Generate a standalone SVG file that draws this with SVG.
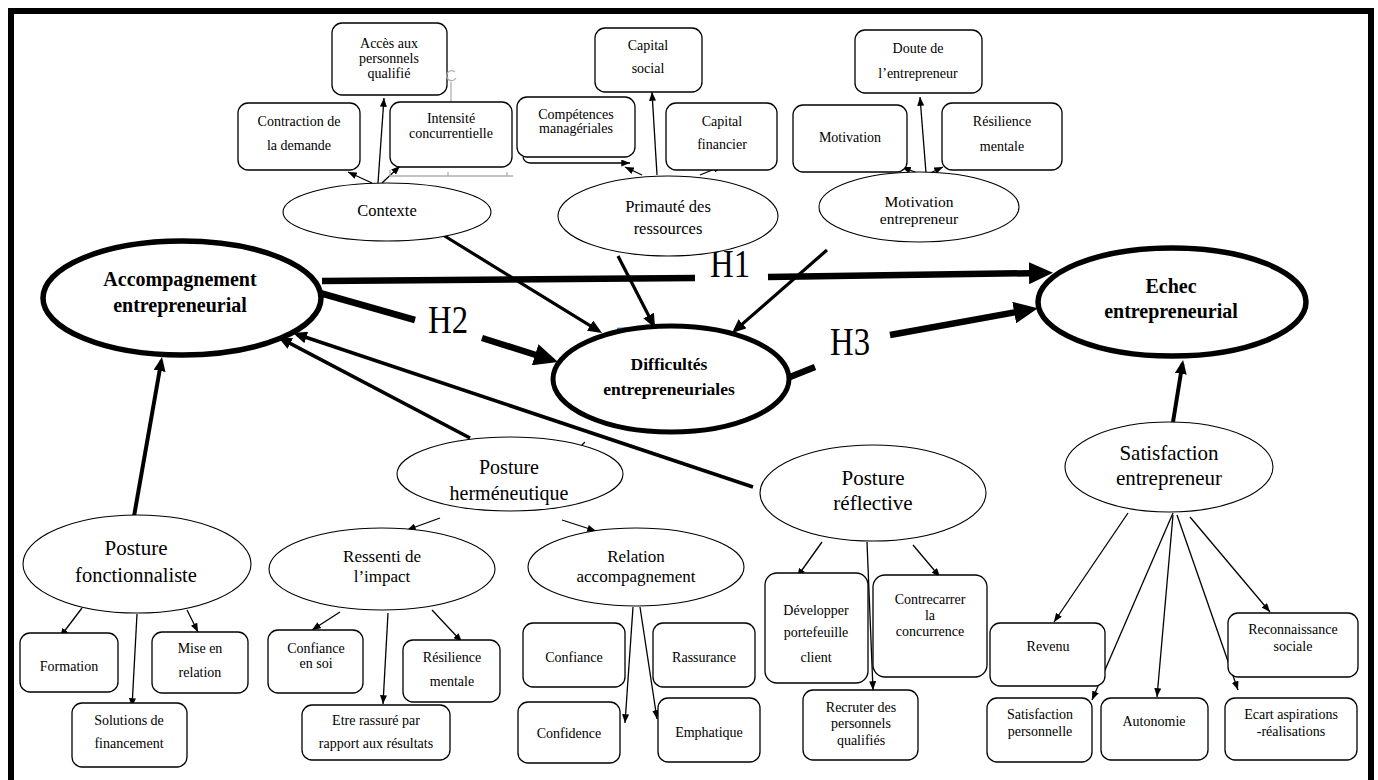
<svg xmlns="http://www.w3.org/2000/svg" width="1378" height="780" viewBox="0 0 1378 780" font-family="'Liberation Serif', 'Times New Roman', serif">
<style>
text{font-family:'Liberation Serif','Times New Roman',serif;fill:#000;text-anchor:middle}
.bx{fill:#fff;stroke:#000;stroke-width:1.3}
.el{fill:#fff;stroke:#000;stroke-width:1.1}
.elb{fill:#fff;stroke:#000;stroke-width:5.5}
.t14{font-size:14px}
.bold{font-weight:bold}
.thin{fill:none;stroke:#000;stroke-width:1.3}
.med{fill:none;stroke:#000;stroke-width:3.2}
.thick{fill:none;stroke:#000;stroke-width:6.5}
.art{fill:none;stroke:#b0b0b0;stroke-width:1.3}
</style>
<defs>
<marker id="ah" viewBox="0 0 10 8" markerWidth="9" markerHeight="7" refX="10" refY="4" orient="auto" markerUnits="userSpaceOnUse"><path d="M0,0L10,4L0,8z"/></marker>
<marker id="am" viewBox="0 0 14 12" markerWidth="14" markerHeight="12" refX="10" refY="6" orient="auto" markerUnits="userSpaceOnUse"><path d="M0,0L14,6L0,12z"/></marker>
<marker id="ab" viewBox="0 0 24 22" markerWidth="24" markerHeight="22" refX="14" refY="11" orient="auto" markerUnits="userSpaceOnUse"><path d="M0,0L24,11L0,22z"/></marker>
</defs>
<rect x="0" y="0" width="1378" height="780" fill="#fff"/>
<rect x="11" y="11" width="1360" height="790" fill="none" stroke="#000" stroke-width="6"/>

<g id="connectors">
<line class="thick" x1="322" y1="281" x2="695" y2="278"/>
<line class="thick" x1="768" y1="277" x2="1043" y2="273" marker-end="url(#ab)"/>
<line class="thick" x1="320" y1="293" x2="415" y2="320"/>
<line class="thick" x1="482" y1="338" x2="548.5" y2="359" marker-end="url(#ab)"/>
<line class="thick" x1="790" y1="377" x2="815" y2="367"/>
<line class="thick" x1="890" y1="335" x2="1028" y2="310" marker-end="url(#ab)"/>
<line class="med" x1="443" y1="235" x2="598.6" y2="330.9" marker-end="url(#am)"/>
<line class="med" x1="618" y1="256" x2="653.2" y2="324.4" marker-end="url(#am)"/>
<line class="med" x1="827" y1="250" x2="735" y2="330.4" marker-end="url(#am)"/>
<line class="med" x1="133" y1="522" x2="161.3" y2="361" marker-end="url(#am)" style="stroke-width:4"/>
<line class="med" x1="470" y1="438" x2="281.5" y2="338.9" marker-end="url(#am)" style="stroke-width:3.6"/>
<line class="med" x1="753" y1="487" x2="296.8" y2="334.3" marker-end="url(#am)" style="stroke-width:3.6"/>
<line class="med" x1="1173" y1="422" x2="1182.4" y2="364" marker-end="url(#am)" style="stroke-width:4"/>
<line class="thin" x1="372" y1="183" x2="348" y2="172" marker-end="url(#ah)"/>
<line class="thin" x1="378" y1="183" x2="384" y2="98" marker-end="url(#ah)"/>
<line class="thin" x1="382" y1="183" x2="400" y2="166" marker-end="url(#ah)"/>
<line class="thin" x1="642" y1="175" x2="625" y2="167" marker-end="url(#ah)"/>
<line class="thin" x1="657" y1="175" x2="652" y2="92" marker-end="url(#ah)"/>
<line class="thin" x1="700" y1="175" x2="722" y2="166" marker-end="url(#ah)"/>
<path class="thin" d="M523,157 Q524,163 531,163 L630,163" marker-end="url(#ah)"/>
<line class="thin" x1="920" y1="174" x2="902" y2="167" marker-end="url(#ah)"/>
<line class="thin" x1="926" y1="173" x2="920" y2="97" marker-end="url(#ah)"/>
<line class="thin" x1="928" y1="174" x2="943" y2="167" marker-end="url(#ah)"/>
<line class="thin" x1="558" y1="383" x2="575" y2="395" marker-end="url(#ah)"/>
<line class="thin" x1="585" y1="442" x2="560" y2="467" marker-end="url(#ah)"/>
<line x1="617" y1="328.5" x2="637" y2="327.5" stroke="#4a7ebb" stroke-width="1.6"/>
<line class="thin" x1="440" y1="518" x2="407" y2="530" marker-end="url(#ah)"/>
<line class="thin" x1="562" y1="520" x2="596" y2="531" marker-end="url(#ah)"/>
<line class="thin" x1="82" y1="608" x2="60" y2="637" marker-end="url(#ah)"/>
<line class="thin" x1="137" y1="614" x2="132" y2="707" marker-end="url(#ah)"/>
<line class="thin" x1="187" y1="610" x2="198" y2="632" marker-end="url(#ah)"/>
<line class="thin" x1="340" y1="612" x2="312" y2="630" marker-end="url(#ah)"/>
<line class="thin" x1="388" y1="613" x2="383" y2="704" marker-end="url(#ah)"/>
<line class="thin" x1="432" y1="610" x2="462" y2="642" marker-end="url(#ah)"/>
<line class="thin" x1="633" y1="607" x2="625" y2="723" marker-end="url(#ah)"/>
<line class="thin" x1="640" y1="607" x2="657" y2="719" marker-end="url(#ah)"/>
<line class="thin" x1="822" y1="542" x2="797" y2="577" marker-end="url(#ah)"/>
<line class="thin" x1="867" y1="542" x2="873" y2="690" marker-end="url(#ah)"/>
<line class="thin" x1="913" y1="545" x2="940" y2="577" marker-end="url(#ah)"/>
<line class="thin" x1="1128" y1="513" x2="1054" y2="622" marker-end="url(#ah)"/>
<line class="thin" x1="1173" y1="513" x2="1092" y2="700" marker-end="url(#ah)"/>
<line class="thin" x1="1173" y1="515" x2="1157" y2="697" marker-end="url(#ah)"/>
<line class="thin" x1="1177" y1="515" x2="1238" y2="690" marker-end="url(#ah)"/>
<line class="thin" x1="1190" y1="517" x2="1270" y2="612" marker-end="url(#ah)"/>
</g>

<g id="labels">
<text x="730" y="277" font-size="40" textLength="40" lengthAdjust="spacingAndGlyphs">H1</text>
<text x="448" y="333" font-size="40" textLength="40" lengthAdjust="spacingAndGlyphs">H2</text>
<text x="850" y="355" font-size="40" textLength="40" lengthAdjust="spacingAndGlyphs">H3</text>
</g>

<g id="acces"><rect class="bx" x="332" y="23" width="115" height="72" rx="10"/>
<text class="t14" x="389" y="48">Accès aux</text><text class="t14" x="389" y="63">personnels</text><text class="t14" x="389" y="78">qualifié</text></g>
<g id="artifact"><line class="art" x1="451" y1="82" x2="451" y2="102"/><path class="art" d="M455,72 A5,5 0 1 0 456,78"/>
<path class="art" d="M390,170 L390,176 L513,176 M448,176 v-4 M507,176 v-4"/></g>
<g id="contraction"><rect class="bx" x="238" y="103" width="122" height="67" rx="10"/>
<text class="t14" x="299" y="126">Contraction de</text><text class="t14" x="299" y="150">la demande</text></g>
<g id="intensite"><rect class="bx" x="390" y="102" width="122" height="65" rx="10"/>
<text class="t14" x="451" y="123">Intensité</text><text class="t14" x="451" y="138">concurrentielle</text></g>
<g id="contexte"><ellipse class="el" cx="387" cy="212" rx="104" ry="29"/>
<text x="387" y="216" font-size="16.5">Contexte</text></g>

<g id="capsocial"><rect class="bx" x="595" y="28" width="107" height="64" rx="10"/>
<text class="t14" x="648" y="50">Capital</text><text class="t14" x="648" y="73">social</text></g>
<g id="competences"><rect class="bx" x="517" y="97" width="118" height="60" rx="10"/>
<text class="t14" x="576" y="119">Compétences</text><text class="t14" x="576" y="133">managériales</text></g>
<g id="capfin"><rect class="bx" x="666" y="103" width="111" height="67" rx="10"/>
<text class="t14" x="722" y="126">Capital</text><text class="t14" x="722" y="149">financier</text></g>
<g id="primaute"><ellipse class="el" cx="668" cy="216" rx="110" ry="40"/>
<text x="668" y="212" font-size="16.5">Primauté des</text><text x="668" y="234" font-size="16.5">ressources</text></g>

<g id="doute"><rect class="bx" x="855" y="30" width="127" height="63" rx="10"/>
<text class="t14" x="918" y="53">Doute de</text><text class="t14" x="918" y="78">l’entrepreneur</text></g>
<g id="motivation"><rect class="bx" x="793" y="105" width="114" height="67" rx="10"/>
<text class="t14" x="850" y="142">Motivation</text></g>
<g id="resilience1"><rect class="bx" x="942" y="103" width="120" height="67" rx="10"/>
<text class="t14" x="1002" y="126">Résilience</text><text class="t14" x="1002" y="151">mentale</text></g>
<g id="motivent"><ellipse class="el" cx="919" cy="207" rx="100" ry="35"/>
<text x="919" y="207" font-size="15.5">Motivation</text><text x="919" y="224" font-size="15.5">entrepreneur</text></g>

<g id="accompagnement"><ellipse class="elb" cx="182" cy="298" rx="139" ry="57"/>
<text class="bold" x="180" y="286" font-size="20">Accompagnement</text><text class="bold" x="180" y="312" font-size="20">entrepreneurial</text></g>
<g id="difficultes"><ellipse class="elb" cx="671" cy="379" rx="118" ry="53" style="stroke-width:5"/>
<text class="bold" x="669" y="370" font-size="17.5">Difficultés</text><text class="bold" x="669" y="395" font-size="17.5">entrepreneuriales</text></g>
<g id="echec"><ellipse class="elb" cx="1172" cy="302" rx="134" ry="54"/>
<text class="bold" x="1171" y="293" font-size="20">Echec</text><text class="bold" x="1171" y="318" font-size="20">entrepreneurial</text></g>

<g id="hermeneutique"><ellipse class="el" cx="510" cy="474" rx="113" ry="37"/>
<text x="509" y="474" font-size="20">Posture</text><text x="509" y="500" font-size="20">herméneutique</text></g>
<g id="reflective"><ellipse class="el" cx="873" cy="493" rx="113" ry="48"/>
<text x="873" y="485" font-size="21">Posture</text><text x="873" y="510" font-size="21">réflective</text></g>
<g id="satisfaction"><ellipse class="el" cx="1169" cy="467" rx="104" ry="45"/>
<text x="1169" y="460" font-size="21">Satisfaction</text><text x="1169" y="485" font-size="21">entrepreneur</text></g>
<g id="fonctionnaliste"><ellipse class="el" cx="137" cy="564" rx="114" ry="49"/>
<text x="136" y="555" font-size="21">Posture</text><text x="136" y="582" font-size="20.5">fonctionnaliste</text></g>
<g id="ressenti"><ellipse class="el" cx="382" cy="569" rx="113" ry="41"/>
<text x="382" y="562" font-size="17">Ressenti de</text><text x="382" y="582" font-size="17">l’impact</text></g>
<g id="relation"><ellipse class="el" cx="636" cy="567" rx="108" ry="39"/>
<text x="636" y="562" font-size="17">Relation</text><text x="636" y="582" font-size="17">accompagnement</text></g>

<g id="formation"><rect class="bx" x="20" y="633" width="98" height="59" rx="10"/>
<text class="t14" x="69" y="671">Formation</text></g>
<g id="miseenrelation"><rect class="bx" x="152" y="632" width="96" height="61" rx="10"/>
<text class="t14" x="200" y="653">Mise en</text><text class="t14" x="200" y="677">relation</text></g>
<g id="solutions"><rect class="bx" x="72" y="703" width="115" height="64" rx="10"/>
<text class="t14" x="129" y="725">Solutions de</text><text class="t14" x="129" y="748">financement</text></g>
<g id="confiancesoi"><rect class="bx" x="268" y="630" width="95" height="63" rx="10"/>
<text class="t14" x="316" y="653">Confiance</text><text class="t14" x="316" y="668">en soi</text></g>
<g id="resilience2"><rect class="bx" x="403" y="640" width="97" height="62" rx="10"/>
<text class="t14" x="452" y="662">Résilience</text><text class="t14" x="452" y="686">mentale</text></g>
<g id="etrerassure"><rect class="bx" x="302" y="705" width="148" height="55" rx="10"/>
<text class="t14" x="376" y="725">Etre rassuré par</text><text class="t14" x="376" y="748">rapport aux résultats</text></g>

<g id="confiance"><rect class="bx" x="523" y="623" width="102" height="64" rx="10"/>
<text class="t14" x="574" y="662">Confiance</text></g>
<g id="rassurance"><rect class="bx" x="653" y="623" width="102" height="64" rx="10"/>
<text class="t14" x="704" y="662">Rassurance</text></g>
<g id="confidence"><rect class="bx" x="518" y="702" width="102" height="61" rx="10"/>
<text class="t14" x="569" y="738">Confidence</text></g>
<g id="emphatique"><rect class="bx" x="658" y="698" width="102" height="64" rx="10"/>
<text class="t14" x="709" y="737">Emphatique</text></g>
<g id="developper"><rect class="bx" x="765" y="573" width="103" height="110" rx="12"/>
<text class="t14" x="816" y="615">Développer</text><text class="t14" x="816" y="637">portefeuille</text><text class="t14" x="816" y="662">client</text></g>
<g id="contrecarrer"><rect class="bx" x="873" y="575" width="114" height="102" rx="12"/>
<text class="t14" x="930" y="604">Contrecarrer</text><text class="t14" x="930" y="620">la</text><text class="t14" x="930" y="636">concurrence</text></g>
<g id="recruter"><rect class="bx" x="803" y="690" width="115" height="70" rx="10"/>
<text class="t14" x="861" y="712">Recruter des</text><text class="t14" x="861" y="728">personnels</text><text class="t14" x="861" y="745">qualifiés</text></g>

<g id="revenu"><rect class="bx" x="990" y="623" width="115" height="63" rx="10"/>
<text class="t14" x="1048" y="651">Revenu</text></g>
<g id="reconnaissance"><rect class="bx" x="1228" y="613" width="130" height="64" rx="10"/>
<text class="t14" x="1293" y="634">Reconnaissance</text><text class="t14" x="1293" y="651">sociale</text></g>
<g id="satperso"><rect class="bx" x="987" y="698" width="105" height="64" rx="10"/>
<text class="t14" x="1040" y="719">Satisfaction</text><text class="t14" x="1040" y="736">personnelle</text></g>
<g id="autonomie"><rect class="bx" x="1101" y="698" width="107" height="62" rx="10"/>
<text class="t14" x="1154" y="726">Autonomie</text></g>
<g id="ecart"><rect class="bx" x="1225" y="698" width="132" height="62" rx="10"/>
<text class="t14" x="1291" y="719">Ecart aspirations</text><text class="t14" x="1291" y="736">-réalisations</text></g>
</svg>
